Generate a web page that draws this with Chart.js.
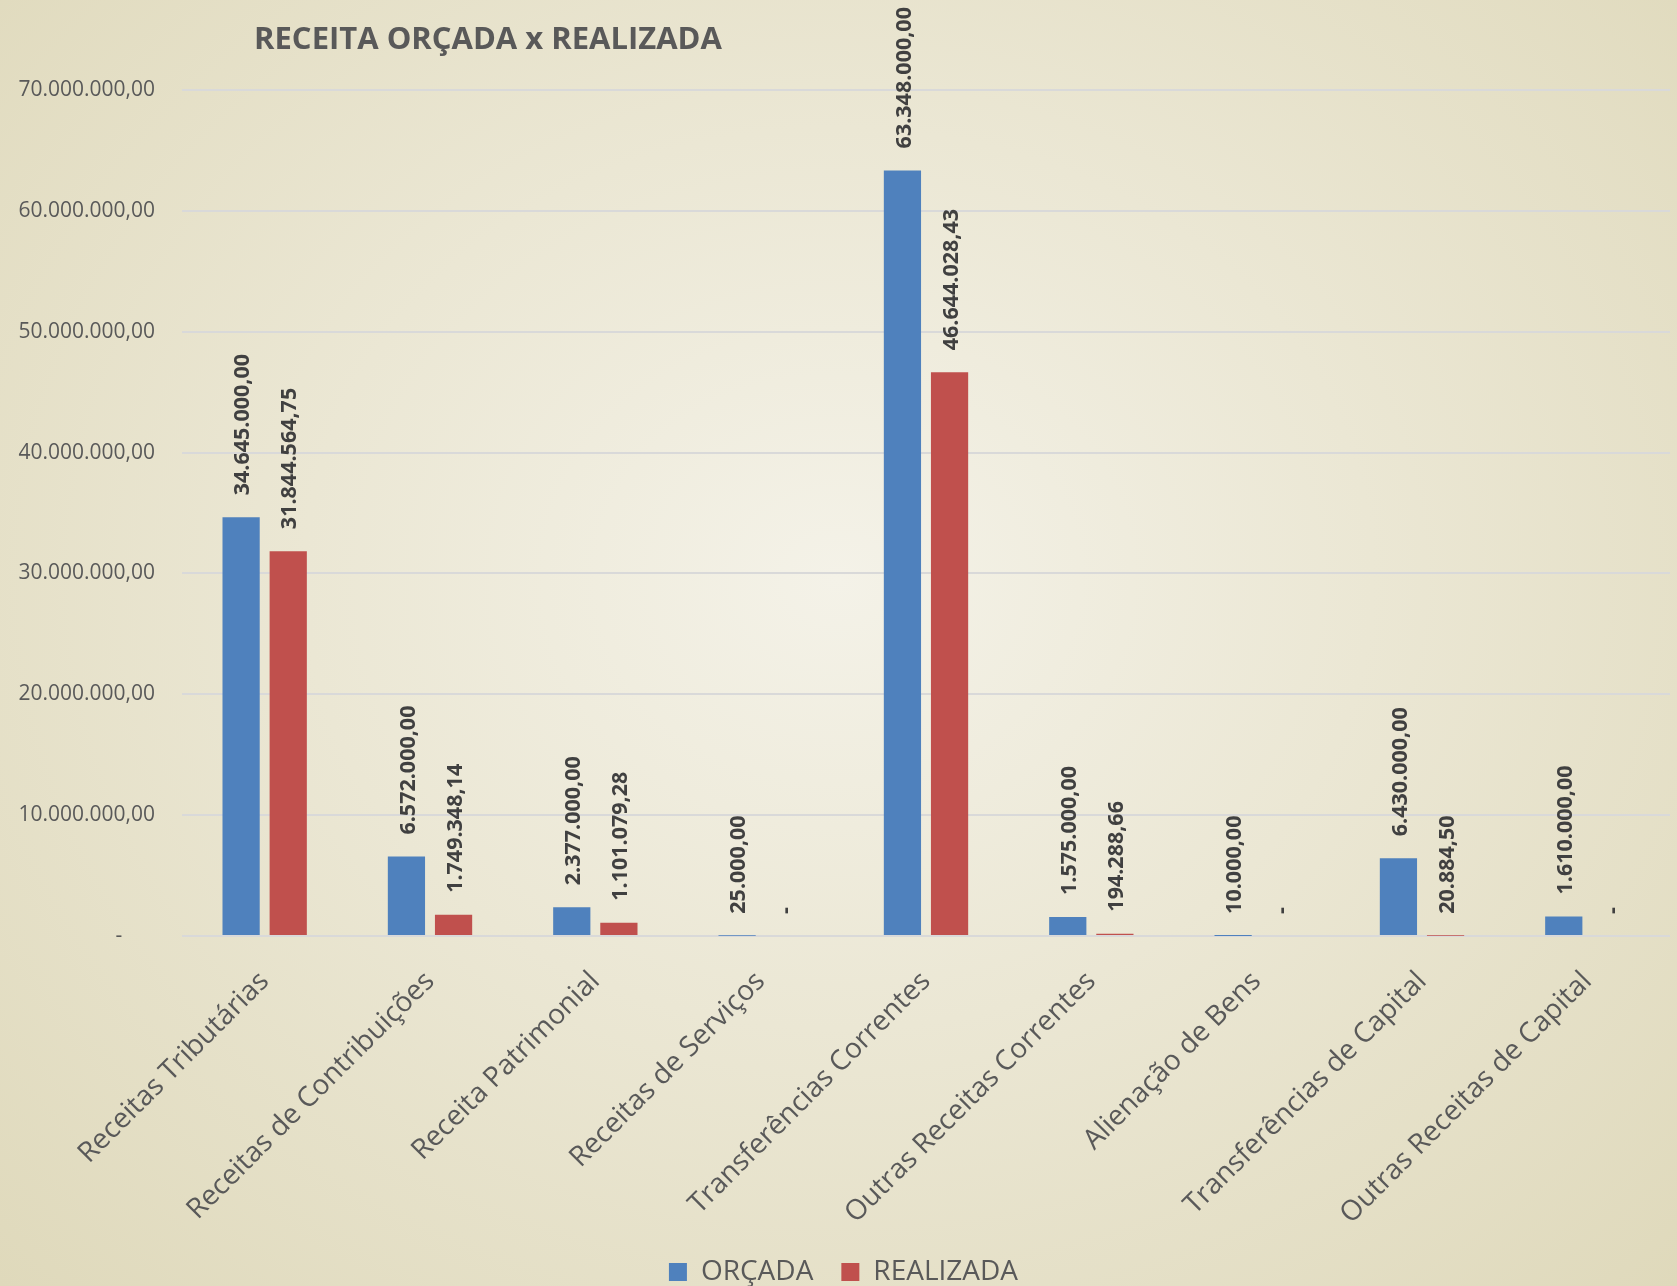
<!DOCTYPE html>
<html>
<head>
<meta charset="utf-8">
<script src="https://cdn.jsdelivr.net/npm/chart.js@4/dist/chart.umd.min.js"></script>
<style>
  html, body { margin: 0; padding: 0; }
  body {
    width: 1677px; height: 1286px; overflow: hidden;
    background: radial-gradient(ellipse at 50% 45%, #f4f2e8 0%, #ebe7d4 45%, #dfd9bb 100%);
  }
  canvas { display: block; }
</style>
</head>
<body>
<canvas id="chartReceita" width="1677" height="1286"></canvas>
<script>
// DADOS
const categorias = ['Receitas Tributárias', 'Receitas de Contribuições', 'Receita Patrimonial',
  'Receitas de Serviços', 'Transferências Correntes', 'Outras Receitas Correntes',
  'Alienação de Bens', 'Transferências de Capital', 'Outras Receitas de Capital'];
const orcada = [34645000, 6572000, 2377000, 25000, 63348000, 1575000, 10000, 6430000, 1610000];
const realizada = [31844564.75, 1749348.14, 1101079.28, 0, 46644028.43, 194288.66, 0, 20884.50, 0];
const yMax = 70000000;
const yStep = 10000000;

const fmt = v => v.toLocaleString('pt-BR', { minimumFractionDigits: 2, maximumFractionDigits: 2 });

Chart.defaults.font.family = "'Open Sans', sans-serif";
Chart.defaults.color = '#595959';

// rótulos verticais sobre as barras + título
const rotulos = {
  id: 'rotulos',
  afterDatasetsDraw(chart) {
    const ctx = chart.ctx;
    ctx.save();
    ctx.font = "bold 21.5px 'Open Sans', sans-serif";
    ctx.fillStyle = '#404040';
    chart.data.datasets.forEach((ds, i) => {
      chart.getDatasetMeta(i).data.forEach((bar, j) => {
        const v = ds.data[j];
        ctx.save();
        ctx.translate(bar.x + 2, bar.y - 22);
        ctx.rotate(-Math.PI / 2);
        ctx.textAlign = 'left';
        ctx.textBaseline = 'middle';
        ctx.fillText(v === 0 ? '-' : fmt(v), 0, 0);
        ctx.restore();
      });
    });
    // título
    ctx.font = "bold 31px 'Open Sans', sans-serif";
    ctx.fillStyle = '#595959';
    ctx.textAlign = 'center';
    ctx.textBaseline = 'middle';
    ctx.fillText('RECEITA ORÇADA x REALIZADA', 488, 40);
    ctx.restore();
  }
};

new Chart(document.getElementById('chartReceita'), {
  type: 'bar',
  data: {
    labels: categorias,
    datasets: [
      { label: 'ORÇADA', data: orcada, backgroundColor: '#4f81bd' },
      { label: 'REALIZADA', data: realizada, backgroundColor: '#c0504d' }
    ]
  },
  options: {
    responsive: false,
    animation: false,
    devicePixelRatio: 1,
    datasets: { bar: { categoryPercentage: 0.57, barPercentage: 0.79 } },
    layout: { padding: { top: 90, left: 17, right: 7, bottom: -10 } },
    plugins: {
      tooltip: { enabled: false },
      legend: {
        position: 'bottom',
        labels: { boxWidth: 18, boxHeight: 18, padding: 28, font: { size: 28 }, color: '#595959' }
      }
    },
    scales: {
      x: {
        afterFit: axis => { axis.height = 294; },
        grid: { display: false },
        border: { display: false },
        ticks: { maxRotation: 45, minRotation: 45, font: { size: 28 }, color: '#595959', padding: 21 }
      },
      y: {
        min: 0, max: yMax,
        afterFit: axis => { axis.width = 165; },
        grid: { color: '#d9d9d9', lineWidth: 2, drawTicks: false },
        border: { display: false },
        ticks: {
          stepSize: yStep, padding: 27, font: { size: 21 }, color: '#595959',
          callback: v => v === 0 ? '-      ' : fmt(v)
        }
      }
    }
  },
  plugins: [rotulos]
});
</script>
</body>
</html>
